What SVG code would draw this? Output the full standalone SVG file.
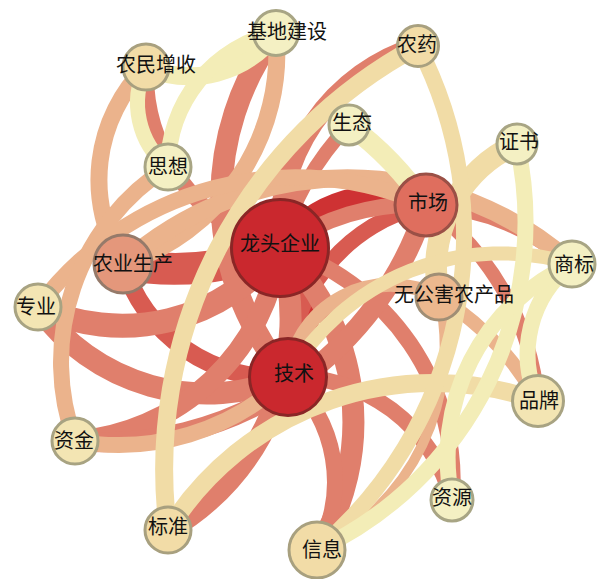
<svg xmlns="http://www.w3.org/2000/svg" width="600" height="579" viewBox="0 0 600 579">
  <style>
    .link { fill: none; stroke-linecap: butt; }
    .w1 { stroke: #F3EDB7; }
    .w2 { stroke: #F1DCA6; }
    .w3 { stroke: #EBB38C; }
    .w4 { stroke: #E07F6C; }
    .w5 { stroke: #D85B51; }
    .w6 { stroke: #CE3233; }
    .node circle { stroke-width: 3; }
    .n-top circle { fill: #CA282E; stroke: #8A2626; }
    .n-hi circle { fill: #DF6E5E; stroke: #9A5046; }
    .n-mid circle { fill: #E4977B; stroke: #957A6A; }
    .n-low circle { fill: #ECB88E; stroke: #A08E75; }
    .n-wheat circle { fill: #F2DCA7; stroke: #A8A07F; }
    .n-cream circle { fill: #F3E5B3; stroke: #A8A382; }
    .n-pale circle { fill: #F4F0C3; stroke: #A8A584; }
    .node text { font-family: "Noto Sans CJK SC", "Noto Sans", sans-serif; font-size: 20px; fill: #111; text-anchor: middle; }
  </style>

  <g id="links">
    <!-- strongest ties -->
    <path class="link w6" stroke-width="22" d="M280,248 A122,122 0 0 1 426,205"/>
    <path class="link w6" stroke-width="24" d="M280,248 A103,103 0 0 1 288,377"/>
    <path class="link w5" stroke-width="16" d="M288,377 A176,176 0 0 1 426,205"/>
    <path class="link w5" stroke-width="32" d="M280,248 A280,280 0 0 1 123,264"/>
    <path class="link w5" stroke-width="18" d="M288,377 A160,160 0 0 1 123,264"/>
    <!-- medium ties -->
    <path class="link w4" stroke-width="16" d="M280,248 A180,180 0 0 1 146,67"/>
    <path class="link w4" stroke-width="22" d="M288,377 A275,275 0 0 1 276,33"/>
    <path class="link w4" stroke-width="20" d="M280,248 A196,196 0 0 1 418,46"/>
    <path class="link w4" stroke-width="14" d="M280,248 A282,282 0 0 1 349,125"/>
    <path class="link w4" stroke-width="16" d="M280,248 A234,234 0 0 1 572,264"/>
    <path class="link w4" stroke-width="14" d="M426,205 A270,270 0 0 1 538,401"/>
    <path class="link w4" stroke-width="22" d="M280,248 A243,243 0 0 1 317,550"/>
    <path class="link w4" stroke-width="16" d="M288,377 A140,140 0 0 1 317,550"/>
    <path class="link w4" stroke-width="16" d="M280,248 A244,244 0 0 1 452,500"/>
    <path class="link w4" stroke-width="16" d="M288,377 A164,164 0 0 1 452,500"/>
    <path class="link w4" stroke-width="24" d="M280,248 A199,199 0 0 1 38,307"/>
    <path class="link w4" stroke-width="22" d="M288,377 A208,208 0 0 1 38,307"/>
    <path class="link w4" stroke-width="20" d="M280,248 A225,225 0 0 1 75,441"/>
    <path class="link w4" stroke-width="20" d="M426,205 A338,338 0 0 1 75,441"/>
    <path class="link w4" stroke-width="22" d="M280,248 A243,243 0 0 1 168,530"/>
    <!-- lighter ties -->
    <path class="link w3" stroke-width="17" d="M123,264 A159,159 0 0 1 146,67"/>
    <path class="link w3" stroke-width="17" d="M276,33 A222,222 0 0 1 123,264"/>
    <path class="link w3" stroke-width="18" d="M123,264 A337,337 0 0 1 572,264"/>
    <path class="link w3" stroke-width="16" d="M38,307 A321,321 0 0 1 426,205"/>
    <path class="link w3" stroke-width="14" d="M439,297 A287,287 0 0 1 538,401"/>
    <path class="link w3" stroke-width="10" d="M439,297 A225,225 0 0 1 317,550"/>
    <path class="link w3" stroke-width="16" d="M288,377 A245,245 0 0 1 75,441"/>
    <path class="link w3" stroke-width="16" d="M75,441 A231,231 0 0 1 168,167"/>
    <path class="link w3" stroke-width="14" d="M288,377 A103,103 0 0 1 439,297"/>
    <path class="link w2" stroke-width="18" d="M168,530 A480,480 0 0 1 418,46"/>
    <path class="link w2" stroke-width="22" d="M439,297 A137,137 0 0 1 517,144"/>
    <path class="link w2" stroke-width="18" d="M168,530 A313,313 0 0 1 538,401"/>
    <path class="link w2" stroke-width="16" d="M418,46 A411,411 0 0 1 317,550"/>
    <path class="link w2" stroke-width="14" d="M288,377 A245,245 0 0 1 572,264"/>
    <!-- weakest ties -->
    <path class="link w1" stroke-width="18" d="M276,33 A108,108 0 0 1 146,67"/>
    <path class="link w1" stroke-width="15" d="M168,167 A82,82 0 0 1 146,67"/>
    <path class="link w1" stroke-width="16" d="M168,167 A138,138 0 0 1 276,33"/>
    <path class="link w1" stroke-width="20" d="M349,125 A333,333 0 0 1 426,205"/>
    <path class="link w1" stroke-width="16" d="M538,401 A113,113 0 0 1 572,264"/>
    <path class="link w1" stroke-width="16" d="M517,144 A362,362 0 0 1 317,550"/>
    <path class="link w1" stroke-width="16" d="M452,500 A212,212 0 0 1 572,264"/>
  </g>

  <g id="node-jidijianshe" class="node n-pale"><circle cx="276" cy="33" r="22.5"/><text x="287" y="38.5">基地建设</text></g>
  <g id="node-nongminzengshou" class="node n-wheat"><circle cx="146" cy="67" r="23"/><text x="156" y="72">农民增收</text></g>
  <g id="node-sixiang" class="node n-pale"><circle cx="168" cy="167" r="23"/><text x="168" y="173.5">思想</text></g>
  <g id="node-nongyao" class="node n-wheat"><circle cx="418" cy="46" r="20.5"/><text x="417" y="52">农药</text></g>
  <g id="node-shengtai" class="node n-pale"><circle cx="349" cy="125" r="20"/><text x="352" y="130">生态</text></g>
  <g id="node-zhengshu" class="node n-pale"><circle cx="517" cy="144" r="20"/><text x="519" y="149">证书</text></g>
  <g id="node-shichang" class="node n-hi"><circle cx="426" cy="205" r="31"/><text x="428" y="210">市场</text></g>
  <g id="node-longtouqiye" class="node n-top"><circle cx="280" cy="248" r="48.5"/><text x="280" y="251">龙头企业</text></g>
  <g id="node-nongyeshengchan" class="node n-mid"><circle cx="123" cy="264" r="29"/><text x="133" y="271">农业生产</text></g>
  <g id="node-shangbiao" class="node n-pale"><circle cx="572" cy="264" r="23"/><text x="574" y="272">商标</text></g>
  <g id="node-zhuanye" class="node n-cream"><circle cx="38" cy="307" r="23"/><text x="36" y="314">专业</text></g>
  <g id="node-wugonghai" class="node n-low"><circle cx="439" cy="297" r="23"/><text x="454" y="302">无公害农产品</text></g>
  <g id="node-jishu" class="node n-top"><circle cx="288" cy="377" r="38.5"/><text x="294" y="381">技术</text></g>
  <g id="node-pinpai" class="node n-cream"><circle cx="538" cy="401" r="25.5"/><text x="539" y="408">品牌</text></g>
  <g id="node-zijin" class="node n-cream"><circle cx="75" cy="441" r="23"/><text x="74" y="448">资金</text></g>
  <g id="node-ziyuan" class="node n-pale"><circle cx="452" cy="500" r="21"/><text x="452" y="505">资源</text></g>
  <g id="node-biaozhun" class="node n-wheat"><circle cx="168" cy="530" r="23"/><text x="168" y="534">标准</text></g>
  <g id="node-xinxi" class="node n-wheat"><circle cx="317" cy="550" r="28"/><text x="322" y="557">信息</text></g>
</svg>
